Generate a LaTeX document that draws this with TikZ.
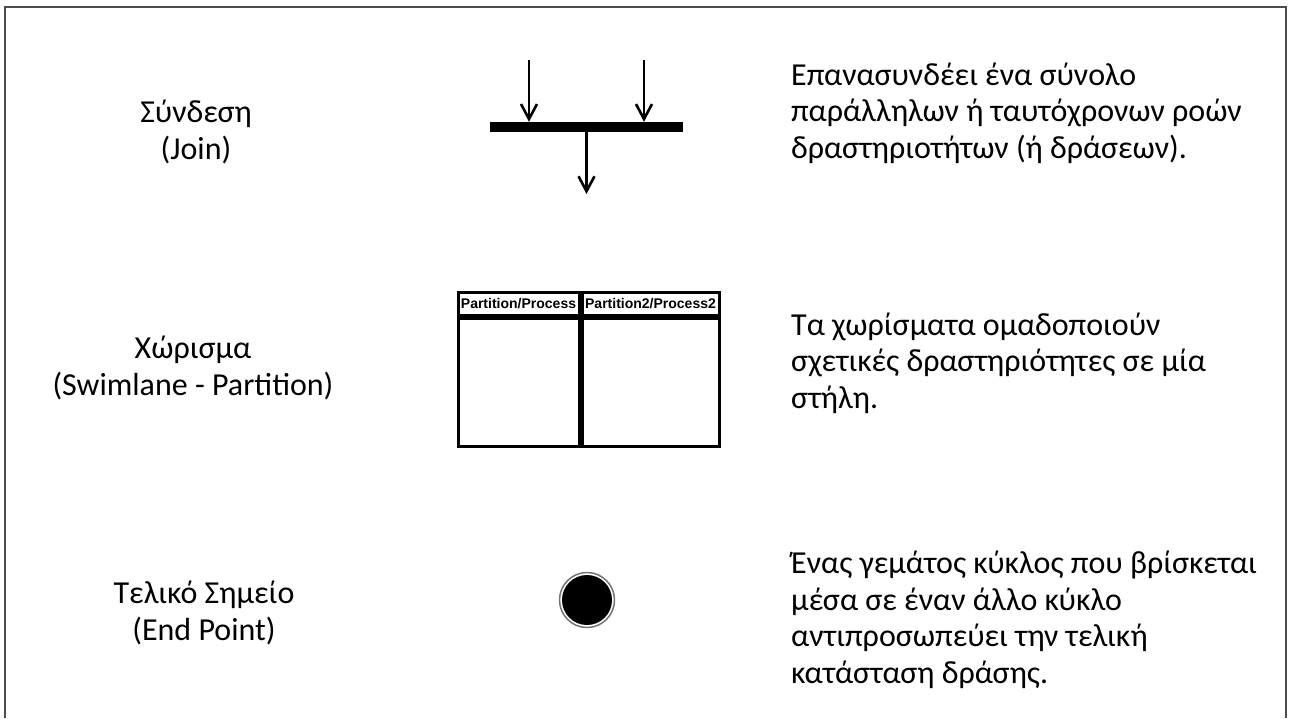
\documentclass[tikz,border=0pt]{standalone}
\usepackage{fontspec}
\setmainfont{Carlito}
\newfontfamily\lanefont{Liberation Sans}
\usetikzlibrary{arrows.meta,positioning,calc}

\begin{document}
\begin{tikzpicture}[
    x=1pt, y=-1pt,
    % --- STYLES ---
    term/.style={
        align=center, inner sep=0pt, anchor=base,
        font=\fontsize{32}{36.5}\selectfont
    },
    desc/.style={
        align=left, inner sep=0pt, anchor=base west,
        font=\fontsize{32}{36.5}\selectfont
    },
    joinbar/.style={rectangle, fill=black, minimum width=193pt, minimum height=10pt, inner sep=0pt},
    lanehead/.style={
        rectangle, draw=black, line width=3pt,
        minimum height=23pt, inner sep=0pt, anchor=north west,
        font=\lanefont\bfseries\fontsize{14}{16}\selectfont
    },
    lanebody/.style={rectangle, draw=black, line width=3pt, minimum height=127.5pt, inner sep=0pt, anchor=north west},
    endring/.style={circle, draw=black!55, line width=1.5pt, minimum size=55pt, inner sep=0pt},
    flow/.style={-{Straight Barb[length=15pt, width=16pt]}, line width=2.6pt}
]
\useasboundingbox (0,0) rectangle (1290,718);

% ===== 1. FRAME =====
\draw[black!70, line width=2pt] (5,718) -- (5,7) -- (1286,7) -- (1286,718);

% ===== 2. LEFT COLUMN (TERMS) =====
% (base = baseline of the last line)
\node[term] (tJoin) at (196,159) {Σύνδεση\\ (Join)};
\node[term] (tLane) at (193,395) {Χώρισμα\\ (Swimlane - Partition)};
\node[term] (tEnd) at (204,640) {Τελικό Σημείο\\ (End Point)};

% ===== 3. SYMBOLS =====
% Join
\node[joinbar] (bar) at (586.5,127) {};
\coordinate (inL) at (529,60);
\coordinate (inR) at (644,60);
\coordinate (outJ) at (586.5,194);

% Swimlane
\node[lanehead, minimum width=121pt] (h1) at (456.5,291) {Partition/Process};
\node[lanehead, minimum width=137pt] (h2) at (h1.north east) {Partition2/Process2};
\node[lanebody, minimum width=121pt] (b1) at (h1.south west) {};
\node[lanebody, minimum width=137pt] (b2) at (h2.south west) {};

% End point
\node[endring] (endpt) at (587,600) {};
\fill (endpt.center) circle (25);

% ===== 4. RIGHT COLUMN (DESCRIPTIONS) =====
\node[desc] (dJoin) at (791,158) {Επανασυνδέει ένα σύνολο\\ παράλληλων ή ταυτόχρονων ροών\\ δραστηριοτήτων (ή δράσεων).};
\node[desc] (dLane) at (791,408) {Τα χωρίσματα ομαδοποιούν\\ σχετικές δραστηριότητες σε μία\\ στήλη.};
\node[desc] (dEnd) at (791,683) {Ένας γεμάτος κύκλος που βρίσκεται\\ μέσα σε έναν άλλο κύκλο\\ αντιπροσωπεύει την τελική\\ κατάσταση δράσης.};

% ===== 5. CONNECTIONS =====
\draw[flow] (inL) -- (inL |- bar.north);
\draw[flow] (inR) -- (inR |- bar.north);
\draw[flow] (bar.south) -- (outJ);

\end{tikzpicture}
\end{document}
